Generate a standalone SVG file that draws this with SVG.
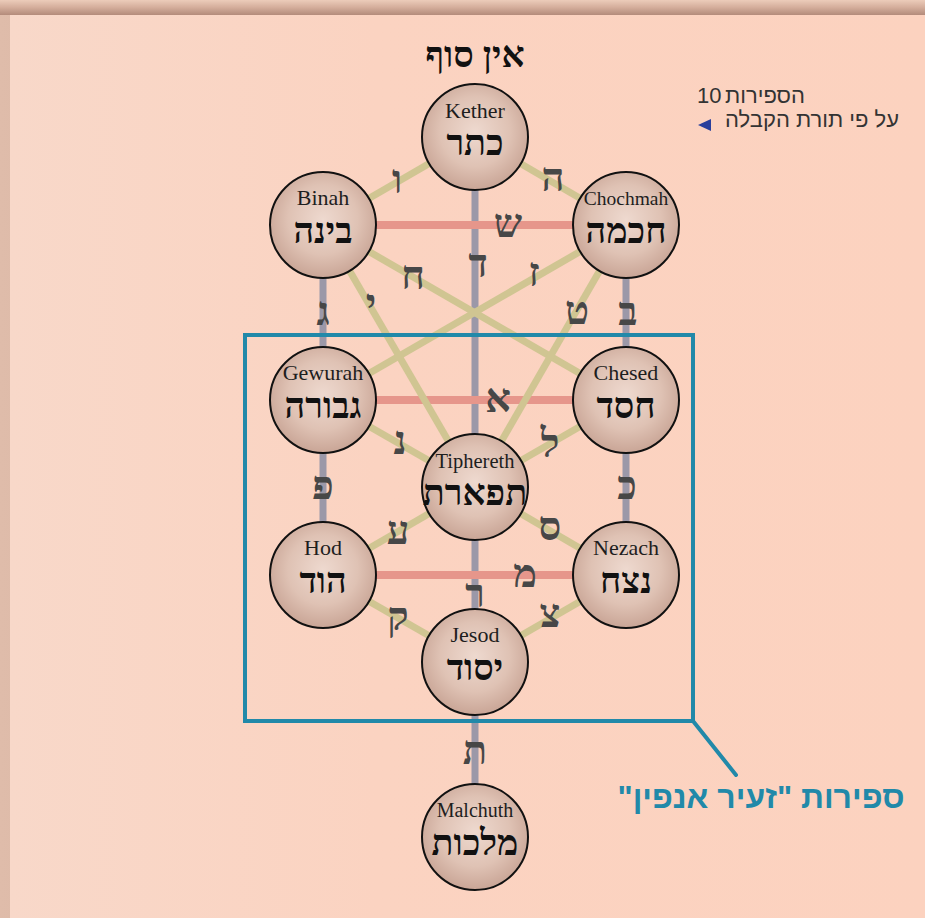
<svg xmlns="http://www.w3.org/2000/svg" width="925" height="918" viewBox="0 0 925 918">
<defs>
<linearGradient id="topShadow" x1="0" y1="0" x2="0" y2="1">
<stop offset="0" stop-color="#ecccba"/>
<stop offset="0.5" stop-color="#d4ad9b"/>
<stop offset="1" stop-color="#b38b7b"/>
</linearGradient>
<linearGradient id="leftShadow" x1="0" y1="0" x2="1" y2="0">
<stop offset="0" stop-color="#dfbcaa"/>
<stop offset="1" stop-color="#b28c7c"/>
</linearGradient>
<linearGradient id="panel" x1="0" y1="0" x2="1" y2="0">
<stop offset="0" stop-color="#f8d8c9"/>
<stop offset="0.4" stop-color="#fbd3c1"/>
<stop offset="1" stop-color="#fcd2bf"/>
</linearGradient>
<radialGradient id="ball" cx="0.5" cy="0.45" r="0.55">
<stop offset="0" stop-color="#eed9cf"/>
<stop offset="0.6" stop-color="#dfc2b4"/>
<stop offset="1" stop-color="#c9a596"/>
</radialGradient>
<style>
.g{stroke:#9b98a8;stroke-width:7;fill:none}
.r{stroke:#e6968b;stroke-width:8;fill:none}
.o{stroke:#d0c592;stroke-width:7;fill:none}
.node circle{fill:url(#ball);stroke:#111;stroke-width:2}
.en{font-family:"Liberation Serif","Times New Roman",serif;font-size:22px;fill:#1e1e1e;text-anchor:middle}
.he{font-family:"Liberation Serif","DejaVu Sans",serif;font-size:36px;font-weight:bold;fill:#111;text-anchor:middle}
.lt{font-family:"Liberation Serif","DejaVu Sans",serif;font-size:40px;font-weight:bold;fill:#474747;text-anchor:middle}
.note{font-family:"Liberation Sans",Arial,sans-serif;font-size:22px;fill:#333}
</style>
</defs>
<rect x="0" y="0" width="925" height="918" fill="url(#leftShadow)"/>
<rect x="0" y="0" width="925" height="15" fill="url(#topShadow)"/>
<rect x="10" y="15" width="915" height="903" fill="url(#panel)"/>

<g id="connectors">
<line class="g" x1="475" y1="137" x2="475" y2="837"/>
<line class="g" x1="323" y1="225" x2="323" y2="575"/>
<line class="g" x1="626" y1="225" x2="626" y2="575"/>
<line class="r" x1="323" y1="225" x2="626" y2="225"/>
<line class="r" x1="323" y1="400" x2="626" y2="400"/>
<line class="r" x1="323" y1="575" x2="626" y2="575"/>
<line class="o" x1="475" y1="137" x2="323" y2="225"/>
<line class="o" x1="475" y1="137" x2="626" y2="225"/>
<line class="o" x1="323" y1="225" x2="626" y2="400"/>
<line class="o" x1="626" y1="225" x2="323" y2="400"/>
<line class="o" x1="323" y1="225" x2="475" y2="487"/>
<line class="o" x1="626" y1="225" x2="475" y2="487"/>
<line class="o" x1="323" y1="400" x2="475" y2="487"/>
<line class="o" x1="626" y1="400" x2="475" y2="487"/>
<line class="o" x1="323" y1="575" x2="475" y2="487"/>
<line class="o" x1="626" y1="575" x2="475" y2="487"/>
<line class="o" x1="323" y1="575" x2="475" y2="662"/>
<line class="o" x1="626" y1="575" x2="475" y2="662"/>
</g>

<g id="path-letters">
<text class="lt" x="397" y="193">ו</text>
<text class="lt" x="553" y="191">ה</text>
<text class="lt" x="508" y="237">ש</text>
<text class="lt" x="478" y="277">ד</text>
<text class="lt" x="413" y="289">ח</text>
<text class="lt" x="534" y="286">ז</text>
<text class="lt" x="323" y="325">ג</text>
<text class="lt" x="371" y="317">י</text>
<text class="lt" x="577" y="324">ט</text>
<text class="lt" x="628" y="325">ב</text>
<text class="lt" x="498" y="412">א</text>
<text class="lt" x="400" y="454">נ</text>
<text class="lt" x="550" y="457">ל</text>
<text class="lt" x="323" y="499">פ</text>
<text class="lt" x="627" y="499">כ</text>
<text class="lt" x="398" y="544">ע</text>
<text class="lt" x="550" y="540">ס</text>
<text class="lt" x="525" y="587">מ</text>
<text class="lt" x="475" y="607">ר</text>
<text class="lt" x="398" y="630">ק</text>
<text class="lt" x="550" y="627">צ</text>
<text class="lt" x="475" y="764">ת</text>
</g>

<g id="kether" class="node"><circle cx="475" cy="137" r="53"/><text class="en" x="475" y="118">Kether</text><text class="he" x="475" y="155">כתר</text></g>
<g id="binah" class="node"><circle cx="323" cy="225" r="53"/><text class="en" x="323" y="205">Binah</text><text class="he" x="323" y="243">בינה</text></g>
<g id="chochmah" class="node"><circle cx="626" cy="225" r="53"/><text class="en" x="626" y="205" style="font-size:19.5px">Chochmah</text><text class="he" x="626" y="243">חכמה</text></g>
<g id="gewurah" class="node"><circle cx="323" cy="400" r="53"/><text class="en" x="323" y="380">Gewurah</text><text class="he" x="323" y="418">גבורה</text></g>
<g id="chesed" class="node"><circle cx="626" cy="400" r="53"/><text class="en" x="626" y="380">Chesed</text><text class="he" x="626" y="418">חסד</text></g>
<g id="tiphereth" class="node"><circle cx="475" cy="487" r="53"/><text class="en" x="475" y="468" style="font-size:20.5px">Tiphereth</text><text class="he" x="475" y="505">תפארת</text></g>
<g id="hod" class="node"><circle cx="323" cy="575" r="53"/><text class="en" x="323" y="555">Hod</text><text class="he" x="323" y="593">הוד</text></g>
<g id="nezach" class="node"><circle cx="626" cy="575" r="53"/><text class="en" x="626" y="555">Nezach</text><text class="he" x="626" y="593">נצח</text></g>
<g id="jesod" class="node"><circle cx="475" cy="662" r="53"/><text class="en" x="475" y="642">Jesod</text><text class="he" x="475" y="680">יסוד</text></g>
<g id="malchuth" class="node"><circle cx="475" cy="837" r="53"/><text class="en" x="475" y="817" style="font-size:20px">Malchuth</text><text class="he" x="475" y="855">מלכות</text></g>

<g id="title"><text x="475" y="67" style="font-family:'Liberation Serif','DejaVu Sans',serif;font-size:36px;font-weight:bold;fill:#111;text-anchor:middle">אין סוף</text></g>

<g id="note">
<text class="note" x="697" y="103">10</text>
<text class="note" x="725" y="103">הספירות</text>
<text class="note" x="899" y="127" text-anchor="end">על פי תורת הקבלה</text>
<polygon points="698,125 711,119 711,131" fill="#2a3f9c"/>
</g>

<g id="zeir-anpin">
<rect x="245" y="335" width="448" height="386" fill="none" stroke="#2189a9" stroke-width="4"/>
<line x1="693" y1="721" x2="736" y2="775" stroke="#2189a9" stroke-width="4" stroke-linecap="round"/>
<text x="761" y="808" direction="rtl" unicode-bidi="embed" style="font-family:'Liberation Sans',Arial,sans-serif;font-size:32px;font-weight:bold;fill:#2189a9;text-anchor:middle">ספירות "זעיר אנפין"</text>
</g>
</svg>
